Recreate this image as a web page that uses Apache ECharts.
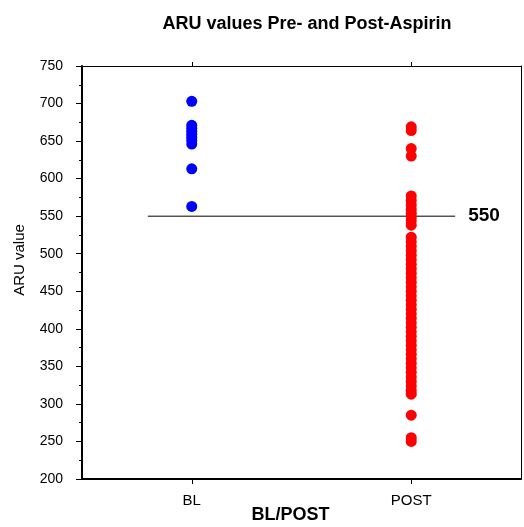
<!DOCTYPE html>
<html>
<head>
<meta charset="utf-8">
<script src="https://cdn.jsdelivr.net/npm/echarts@6/dist/echarts.min.js"></script>
<style>
html,body{margin:0;padding:0;background:#fff;}
#chart{width:524px;height:527px;}
</style>
</head>
<body>
<div id="chart"></div>
<script>
const categories = ['BL', 'POST'];
const blValues = [703, 671, 667, 663, 659, 655, 651, 646, 613, 563];
const postValues = [669, 664, 640, 630, 577, 571, 565, 559, 554, 549, 544, 538, 522, 516, 510, 504, 498, 492, 486, 480, 474, 468, 462, 456, 450, 444, 438, 432, 426, 420, 414, 408, 402, 396, 390, 384, 378, 372, 366, 360, 354, 348, 342, 336, 330, 324, 318, 313, 285, 255, 250];
const refValue = 550;
const refLineX = [0.6, 3.4];
const yTicks = { min: 200, max: 750, interval: 50 };

const font = 'Liberation Sans, Arial, sans-serif';
const chart = echarts.init(document.getElementById('chart'), null, { renderer: 'canvas', width: 524, height: 527 });

chart.setOption({
  animation: false,
  backgroundColor: '#ffffff',
  title: {
    text: 'ARU values Pre- and Post-Aspirin',
    left: 302, top: 10, textAlign: 'center',
    textStyle: { fontFamily: font, fontSize: 18, fontWeight: 'bold', color: '#000' }
  },
  grid: { left: 82, top: 66, width: 439, height: 413, containLabel: false, outerBoundsMode: 'none' },
  xAxis: [
    {
      type: 'category', data: categories, position: 'bottom', boundaryGap: true,
      name: 'BL/POST', nameLocation: 'middle', nameGap: 27, nameMoveOverlap: false,
      nameTextStyle: { fontFamily: font, fontSize: 18, fontWeight: 'bold', color: '#000', padding: [0, 22, 0, 0] },
      axisLine: { show: true, lineStyle: { color: '#000', width: 2 } },
      axisTick: { show: true, alignWithLabel: true, length: 5, lineStyle: { color: '#000' } },
      axisLabel: { fontFamily: font, fontSize: 15, color: '#000', margin: 14 },
      splitLine: { show: false }
    },
    {
      type: 'category', data: categories, position: 'top', boundaryGap: true,
      axisLine: { show: true, lineStyle: { color: '#000', width: 1 } },
      axisTick: { show: true, alignWithLabel: true, length: 4, lineStyle: { color: '#000', width: 1 } },
      axisLabel: { show: false },
      splitLine: { show: false }
    },
    {
      type: 'value', min: 0, max: 4, show: false
    }
  ],
  yAxis: [
    {
      type: 'value', min: yTicks.min, max: yTicks.max, interval: yTicks.interval,
      name: 'ARU value', nameLocation: 'middle', nameGap: 55, nameRotate: 90, nameMoveOverlap: false,
      nameTextStyle: { fontFamily: font, fontSize: 15, color: '#000', padding: [0, 0, 0, 25] },
      axisLine: { show: true, lineStyle: { color: '#000', width: 2 } },
      axisTick: { show: true, length: 6, lineStyle: { color: '#000' } },
      minorTick: { show: true, splitNumber: 2, length: 3, lineStyle: { color: '#000' } },
      axisLabel: { fontFamily: font, fontSize: 14, color: '#000', margin: 19 },
      splitLine: { show: false }
    },
    {
      type: 'value', min: yTicks.min, max: yTicks.max, position: 'right',
      axisLine: { show: true, lineStyle: { color: '#000', width: 1 } },
      axisTick: { show: false }, axisLabel: { show: false }, splitLine: { show: false }
    }
  ],
  series: [
    {
      type: 'scatter', name: 'BL', xAxisIndex: 0, yAxisIndex: 0,
      symbol: 'circle', symbolSize: 11,
      itemStyle: { color: '#0000ff', opacity: 1 },
      data: blValues.map(v => [categories[0], v])
    },
    {
      type: 'scatter', name: 'POST', xAxisIndex: 0, yAxisIndex: 0,
      symbol: 'circle', symbolSize: 11,
      itemStyle: { color: '#ff0000', opacity: 1 },
      data: postValues.map(v => [categories[1], v])
    },
    {
      type: 'line', xAxisIndex: 2, yAxisIndex: 0,
      symbol: 'none',
      lineStyle: { color: '#000', width: 1 },
      data: refLineX.map(x => [x, refValue]),
      endLabel: {
        show: true, formatter: String(refValue), distance: 13,
        fontFamily: font, fontSize: 19, fontWeight: 'bold', color: '#000'
      },
      z: 1
    }
  ]
});
</script>
</body>
</html>
